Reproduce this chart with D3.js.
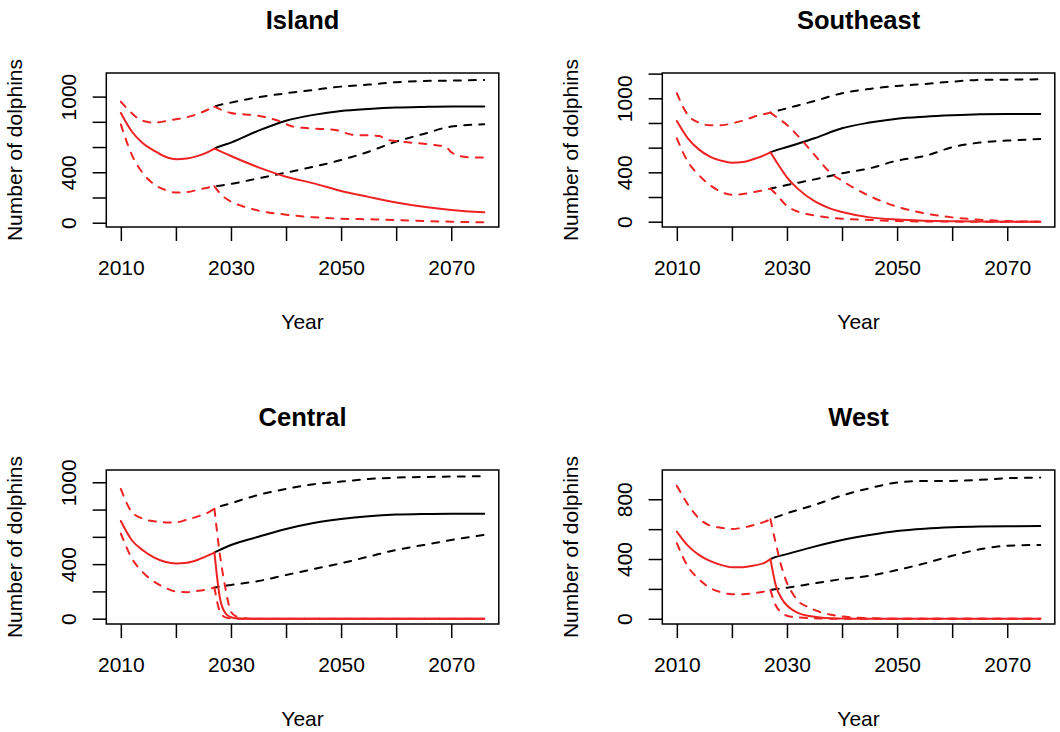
<!DOCTYPE html>
<html>
<head>
<meta charset="utf-8">
<script src="https://cdn.jsdelivr.net/npm/d3@7/dist/d3.min.js"></script>
<style>
  body { margin: 0; background: #fff; }
  svg text { font-family: "Liberation Sans", Arial, Helvetica, sans-serif; fill: #000; }
</style>
</head>
<body>
<div id="chart"></div>
<script>
  'use strict';

  // Values: [year, number of dolphins]
  // red = with the threat from 2027, black = without it (from 2027 on)

  var islandRedMean = [[2010, 870], [2012, 723], [2014, 630], [2016, 572], [2018, 525], [2020, 504], [2022, 509],
    [2024, 530], [2026, 564], [2027, 588], [2030, 529], [2035, 439], [2040, 365], [2045, 312], [2050, 252],
    [2055, 205], [2060, 161], [2065, 127], [2070, 101], [2076, 82]];
  var islandRedHi = [[2010, 960], [2012, 868], [2014, 807], [2016, 794], [2018, 804], [2020, 820], [2022, 836],
    [2024, 863], [2026, 900], [2027, 920], [2030, 870], [2035, 848], [2039, 802], [2041, 765], [2044, 749],
    [2049, 735], [2052, 698], [2057, 688], [2058, 661], [2061, 643], [2067, 616], [2069, 603], [2070, 560],
    [2071, 537], [2073, 519], [2076, 516]];
  var islandRedLo = [[2010, 780], [2012, 538], [2014, 393], [2016, 306], [2018, 261], [2020, 240], [2022, 243],
    [2024, 261], [2026, 280], [2027, 288], [2028, 233], [2030, 167], [2032, 133], [2035, 96], [2040, 64],
    [2045, 43], [2050, 32], [2055, 27], [2060, 21], [2065, 13], [2070, 8], [2076, 3]];
  var islandBlackMean = [[2027, 588], [2030, 635], [2035, 730], [2040, 809], [2045, 855], [2050, 886],
    [2055, 902], [2060, 913], [2065, 918], [2070, 921], [2076, 921]];
  var islandBlackHi = [[2027, 920], [2030, 952], [2035, 995], [2040, 1026], [2045, 1053], [2050, 1079],
    [2055, 1095], [2060, 1114], [2065, 1124], [2070, 1127], [2076, 1132]];
  var islandBlackLo = [[2027, 288], [2030, 307], [2035, 352], [2040, 397], [2045, 444], [2050, 497],
    [2055, 563], [2060, 643], [2065, 704], [2070, 762], [2076, 780]];

  var southeastRedMean = [[2010, 816], [2012, 676], [2014, 586], [2016, 527], [2018, 495], [2020, 478],
    [2022, 484], [2024, 508], [2026, 541], [2027, 562], [2028, 491], [2030, 360], [2032, 266], [2035, 166],
    [2038, 104], [2040, 78], [2045, 35], [2050, 17], [2055, 8], [2060, 3], [2065, 1], [2070, 0], [2076, 0]];
  var southeastRedHi = [[2010, 1041], [2012, 865], [2014, 803], [2016, 781], [2018, 781], [2020, 797],
    [2022, 819], [2024, 851], [2026, 873], [2027, 884], [2028, 851], [2030, 784], [2032, 695], [2035, 541],
    [2038, 392], [2040, 332], [2045, 208], [2050, 122], [2055, 68], [2060, 35], [2065, 16], [2070, 5], [2076, 0]];
  var southeastRedLo = [[2010, 676], [2012, 486], [2014, 378], [2016, 297], [2018, 243], [2020, 219],
    [2022, 224], [2024, 240], [2026, 257], [2027, 268], [2028, 224], [2030, 127], [2032, 81], [2035, 51],
    [2040, 24], [2045, 14], [2050, 5], [2055, 2], [2060, 1], [2065, 0], [2076, 0]];
  var southeastBlackMean = [[2027, 562], [2030, 605], [2035, 676], [2040, 757], [2045, 803], [2050, 835],
    [2055, 851], [2060, 862], [2065, 870], [2070, 873], [2076, 873]];
  var southeastBlackHi = [[2027, 884], [2030, 919], [2035, 978], [2040, 1041], [2045, 1076], [2050, 1100],
    [2055, 1116], [2060, 1135], [2065, 1149], [2070, 1151], [2076, 1154]];
  var southeastBlackLo = [[2027, 268], [2030, 297], [2035, 343], [2040, 392], [2045, 432], [2050, 495],
    [2055, 532], [2060, 603], [2065, 641], [2070, 657], [2076, 670]];

  var centralRedMean = [[2010, 716], [2012, 575], [2014, 502], [2016, 449], [2018, 417], [2020, 405],
    [2022, 410], [2024, 432], [2026, 466], [2027, 485], [2028, 150], [2029, 40], [2030, 10], [2031, 3],
    [2032, 0], [2076, 0]];
  var centralRedHi = [[2010, 951], [2012, 782], [2014, 733], [2016, 714], [2018, 706], [2020, 706],
    [2022, 726], [2024, 750], [2026, 782], [2027, 806], [2028, 467], [2029, 222], [2030, 51], [2031, 15],
    [2032, 5], [2034, 0], [2076, 0]];
  var centralRedLo = [[2010, 624], [2012, 442], [2014, 340], [2016, 272], [2018, 228], [2020, 199],
    [2022, 194], [2024, 204], [2026, 218], [2027, 228], [2028, 51], [2029, 10], [2030, 2], [2031, 0], [2076, 0]];
  var centralBlackMean = [[2027, 485], [2030, 540], [2035, 601], [2040, 658], [2045, 702], [2050, 731],
    [2055, 751], [2060, 763], [2065, 768], [2070, 770], [2076, 770]];
  var centralBlackHi = [[2027, 806], [2030, 846], [2035, 907], [2040, 951], [2045, 985], [2050, 1005],
    [2055, 1024], [2060, 1034], [2065, 1039], [2070, 1042], [2076, 1044]];
  var centralBlackLo = [[2027, 228], [2030, 247], [2035, 276], [2040, 320], [2045, 364], [2050, 406],
    [2055, 455], [2060, 504], [2065, 540], [2070, 577], [2076, 614]];

  var westRedMean = [[2010, 584], [2012, 490], [2014, 428], [2016, 388], [2018, 361], [2020, 345],
    [2022, 345], [2024, 356], [2026, 376], [2027, 399], [2028, 220], [2029, 138], [2030, 89], [2031, 60],
    [2032, 40], [2034, 18], [2036, 9], [2038, 4], [2040, 2], [2045, 0], [2076, 0]];
  var westRedHi = [[2010, 891], [2012, 766], [2014, 673], [2016, 624], [2018, 610], [2020, 601],
    [2022, 610], [2024, 628], [2026, 650], [2027, 666], [2028, 500], [2029, 350], [2030, 240], [2031, 171],
    [2032, 120], [2034, 76], [2036, 45], [2038, 27], [2040, 16], [2045, 4], [2050, 0], [2076, 0]];
  var westRedLo = [[2010, 506], [2012, 350], [2014, 265], [2016, 207], [2018, 178], [2020, 165],
    [2022, 165], [2024, 171], [2026, 183], [2027, 192], [2028, 87], [2029, 42], [2030, 20], [2031, 13],
    [2032, 9], [2034, 4], [2036, 2], [2040, 0], [2076, 0]];
  var westBlackMean = [[2027, 399], [2030, 433], [2035, 483], [2040, 527], [2045, 561], [2050, 588],
    [2055, 603], [2060, 612], [2065, 617], [2070, 619], [2076, 621]];
  var westBlackHi = [[2027, 666], [2030, 706], [2035, 762], [2040, 825], [2045, 874], [2050, 912],
    [2055, 923], [2060, 923], [2065, 930], [2070, 941], [2076, 945]];
  var westBlackLo = [[2027, 192], [2030, 208], [2035, 237], [2040, 266], [2045, 288], [2050, 326],
    [2055, 371], [2060, 422], [2065, 465], [2070, 489], [2076, 494]];

  var regions = ['Island', 'Southeast', 'Central', 'West'];
  var splitYear = 2027;
  var xTicks = [2010, 2020, 2030, 2040, 2050, 2060, 2070];
  var xLabels = [2010, 2030, 2050, 2070];
  var xLim = [2007.36, 2078.64];

  var yTicksIsland = [0, 200, 400, 600, 800, 1000];
  var yTicksSoutheast = [0, 200, 400, 600, 800, 1000, 1200];
  var yTicksCentral = [0, 200, 400, 600, 800, 1000];
  var yTicksWest = [0, 200, 400, 600, 800];
  var yLabelsIsland = [0, 400, 1000];
  var yLabelsSoutheast = [0, 400, 1000];
  var yLabelsCentral = [0, 400, 1000];
  var yLabelsWest = [0, 400, 800];
  var yLimIsland = [-34, 1187];
  var yLimSoutheast = [-43, 1205];
  var yLimCentral = [-39, 1090];
  var yLimWest = [-35, 996];

  var panels = [
    { red: [islandRedHi, islandRedLo, islandRedMean], black: [islandBlackHi, islandBlackLo, islandBlackMean],
      ticks: yTicksIsland, labels: yLabelsIsland, ylim: yLimIsland },
    { red: [southeastRedHi, southeastRedLo, southeastRedMean], black: [southeastBlackHi, southeastBlackLo, southeastBlackMean],
      ticks: yTicksSoutheast, labels: yLabelsSoutheast, ylim: yLimSoutheast },
    { red: [centralRedHi, centralRedLo, centralRedMean], black: [centralBlackHi, centralBlackLo, centralBlackMean],
      ticks: yTicksCentral, labels: yLabelsCentral, ylim: yLimCentral },
    { red: [westRedHi, westRedLo, westRedMean], black: [westBlackHi, westBlackLo, westBlackMean],
      ticks: yTicksWest, labels: yLabelsWest, ylim: yLimWest }
  ];

  var width = 1060,
      height = 732,
      boxW = 392.5,
      boxH = 154,
      colX = [106.3, 662.3],
      rowY = [73, 470],
      red = '#ee2222',
      fontSize = 21;

  var svg = d3.select('#chart')
              .append('svg')
              .attr('width', width)
              .attr('height', height);

  svg.append('rect')
     .attr('width', width)
     .attr('height', height)
     .attr('fill', '#fff');

  panels.forEach(function (p, i) {
    drawPanel(p, regions[i], colX[i % 2], rowY[Math.floor(i / 2)], i);
  });

  function drawPanel(p, title, x0, y0, idx) {
    var x = d3.scaleLinear().domain(xLim).range([x0, x0 + boxW]),
        y = d3.scaleLinear().domain(p.ylim).range([y0 + boxH, y0]),
        g = svg.append('g'),
        clipId = 'after' + idx;

    var line = d3.line()
                 .x(function (d) { return x(d[0]); })
                 .y(function (d) { return y(d[1]); })
                 .curve(d3.curveMonotoneX);

    // black is only shown after the split, but keeps the early shape for a smooth join
    svg.append('clipPath')
       .attr('id', clipId)
       .append('rect')
       .attr('x', x(splitYear))
       .attr('y', y0 - 10)
       .attr('width', x0 + boxW - x(splitYear))
       .attr('height', boxH + 20);

    // x axis
    var xAxis = g.append('g')
                 .attr('transform', 'translate(0,' + (y0 + boxH) + ')')
                 .call(d3.axisBottom(x)
                   .tickValues(xTicks)
                   .tickSize(14)
                   .tickPadding(19.5)
                   .tickFormat(function (d) { return xLabels.indexOf(d) >= 0 ? d : ''; }));
    styleAxis(xAxis);

    // y axis, labels turned like R does
    var yAxis = g.append('g')
                 .attr('transform', 'translate(' + x0 + ',0)')
                 .call(d3.axisLeft(y)
                   .tickValues(p.ticks)
                   .tickSize(13.7)
                   .tickFormat(function (d) { return p.labels.indexOf(d) >= 0 ? d : ''; }));
    styleAxis(yAxis);
    yAxis.selectAll('text')
         .attr('x', 0)
         .attr('dy', null)
         .attr('text-anchor', 'middle')
         .attr('transform', 'translate(-30.6,0) rotate(-90)');

    var blackG = g.append('g').attr('clip-path', 'url(#' + clipId + ')');
    p.black.forEach(function (s, k) {
      var early = p.red[k].filter(function (d) { return d[0] <= splitYear; });
      drawLine(blackG, line, early.concat(s.slice(1)), '#000', k < 2);
    });
    // red is split at 2027 so the turn is sharp
    p.red.forEach(function (s, k) {
      var early = s.filter(function (d) { return d[0] <= splitYear; }),
          late = s.filter(function (d) { return d[0] >= splitYear; });
      drawLine(g, line, early, red, k < 2);
      drawLine(g, line, late, red, k < 2);
    });

    g.append('rect')
     .attr('x', x0)
     .attr('y', y0)
     .attr('width', boxW)
     .attr('height', boxH)
     .attr('fill', 'none')
     .attr('stroke', '#000')
     .attr('stroke-width', 1.5);

    g.append('text')
     .attr('x', x0 + boxW / 2)
     .attr('y', y0 - 44)
     .attr('text-anchor', 'middle')
     .attr('font-size', 25.5)
     .attr('font-weight', 'bold')
     .text(title);

    g.append('text')
     .attr('x', x0 + boxW / 2)
     .attr('y', y0 + boxH + 101.5)
     .attr('text-anchor', 'middle')
     .attr('font-size', fontSize)
     .text('Year');

    g.append('text')
     .attr('transform', 'translate(' + (x0 - 84.5) + ',' + (y0 + boxH / 2) + ') rotate(-90)')
     .attr('text-anchor', 'middle')
     .attr('font-size', fontSize)
     .text('Number of dolphins');
  }

  function styleAxis(a) {
    a.select('.domain').remove();
    a.attr('font-size', fontSize)
     .attr('font-family', null);
    a.selectAll('line')
     .attr('stroke', '#000')
     .attr('stroke-width', 1.5);
  }

  function drawLine(g, line, data, colour, dashed) {
    g.append('path')
     .datum(data)
     .attr('d', line)
     .attr('fill', 'none')
     .attr('stroke', colour)
     .attr('stroke-width', 2)
     .attr('stroke-linecap', 'round')
     .attr('stroke-dasharray', dashed ? '7,8' : null);
  }
</script>
</body>
</html>
